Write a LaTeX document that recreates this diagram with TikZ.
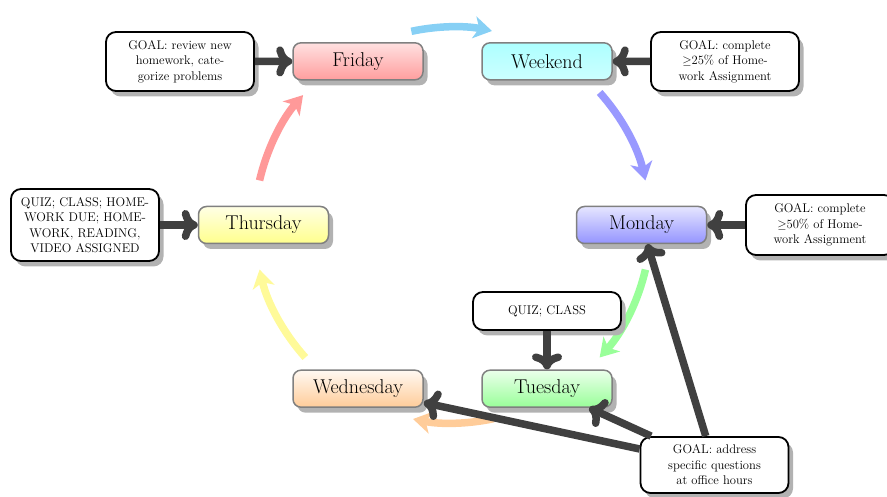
\documentclass[tikz,border=0pt]{standalone}
\usepackage{fontspec}
\usetikzlibrary{arrows.meta,shadows,calc}
\definecolor{skyarrow}{RGB}{135,208,245}
\definecolor{connc}{RGB}{64,64,64}
\begin{document}
\begin{tikzpicture}[x=1pt,y=1pt,
  shad/.style={drop shadow={shadow xshift=4.5pt,shadow yshift=-5.5pt,fill=black!30,opacity=1}},
  daybox/.style={draw=black!50,line width=1.5pt,rounded corners=8pt,minimum width=130pt,minimum height=37pt,inner sep=0pt,font=\fontsize{20}{23}\selectfont,shad},
  goalbox/.style={draw=black,line width=1.8pt,fill=white,rounded corners=10pt,minimum width=148pt,inner sep=0pt,align=center,font=\fontsize{12.6}{15.5}\selectfont,shad},
  conn/.style={draw=connc,line width=7.5pt,-{Computer Modern Rightarrow[length=16pt,width=30pt]}},
  cyc/.style={line width=7.5pt,-{Stealth[length=18pt,width=22pt,inset=5pt]}}
]
\useasboundingbox (0,0) rectangle (887,496);
\coordinate (C) at (452.5,271);
% cycle arcs
\draw[cyc,skyarrow] ($(C)+(102:198)$) arc[start angle=102,end angle=78.5,radius=198];
\draw[cyc,blue!40] ($(C)+(42:198)$) arc[start angle=42,end angle=13,radius=198];
\draw[cyc,green!40] ($(C)+(-13:198)$) arc[start angle=-13,end angle=-42,radius=198];
\draw[cyc,orange!40] ($(C)+(-78:198)$) arc[start angle=-78,end angle=-101.5,radius=198];
\draw[cyc,yellow!40] ($(C)+(-138:198)$) arc[start angle=-138,end angle=-167,radius=198];
\draw[cyc,red!40] ($(C)+(167:198)$) arc[start angle=167,end angle=139,radius=198];
% day nodes
\node[daybox,top color=red!12,bottom color=red!38] (fri) at ($(C)+(120:189)$) {Friday};
\node[daybox,top color=cyan!32,bottom color=cyan!20] (wkd) at ($(C)+(60:189)$) {Weekend};
\node[daybox,top color=blue!10,bottom color=blue!42] (mon) at ($(C)+(0:189)$) {Monday};
\node[daybox,top color=green!8,bottom color=green!40] (tue) at ($(C)+(-60:189)$) {Tuesday};
\node[daybox,top color=orange!5,bottom color=orange!40] (wed) at ($(C)+(-120:189)$) {Wednesday};
\node[daybox,top color=yellow!10,bottom color=yellow!45] (thu) at ($(C)+(180:189)$) {Thursday};
% goal boxes
\node[goalbox,minimum height=59pt] (g1) at (180,434.5) {GOAL: review new\\homework, cate-\\gorize problems};
\node[goalbox,minimum height=59pt] (g2) at (725,434.5) {GOAL: complete\\$\geq$25\% of Home-\\work Assignment};
\node[goalbox,minimum height=72pt] (g3) at (85,271) {QUIZ; CLASS; HOME-\\WORK DUE; HOME-\\WORK, READING,\\VIDEO ASSIGNED};
\node[goalbox,minimum height=60pt] (g4) at (820,271) {GOAL: complete\\$\geq$50\% of Home-\\work Assignment};
\node[goalbox,minimum height=38pt] (g5) at (547,185) {QUIZ; CLASS};
\node[goalbox,minimum height=56pt] (g6) at (714.5,31) {GOAL: address\\specific questions\\at office hours};
% connectors
\draw[conn] (g1) -- (fri);
\draw[conn] (g2) -- (wkd);
\draw[conn] (g3) -- (thu);
\draw[conn] (g4) -- (mon);
\draw[conn] (g5) -- (tue);
\draw[conn] (g6) -- (mon);
\draw[conn] (g6) -- (tue);
\draw[conn] (g6) -- (wed);
\end{tikzpicture}
\end{document}
